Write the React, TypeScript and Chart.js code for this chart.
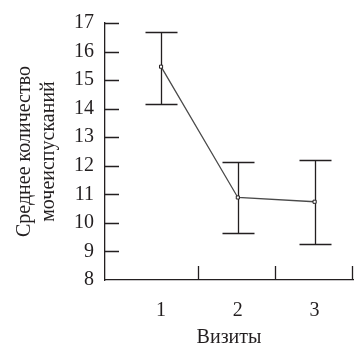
import React, { useEffect, useRef } from "react";
import { Chart, registerables } from "chart.js";

Chart.register(...registerables);

const visits = [1, 2, 3];
const means = [15.47, 10.89, 10.74];
const upper = [16.68, 12.14, 12.2];
const lower = [14.17, 9.65, 9.25];
const yTickValues = [8, 9, 10, 11, 12, 13, 14, 15, 16, 17];
const xTickMarks = [1.5, 2.5, 3.5];
const yTickMarks = [9, 10, 11, 12, 13, 14, 15, 16, 17];
const yTitle = ["Среднее количество", "мочеиспусканий"];
const xTitle = "Визиты";

const FONT = "'Liberation Serif', 'DejaVu Serif', serif";
const INK = "#231f20";

const errorBars = {
  id: "errorBars",
  beforeDatasetsDraw(chart: any) {
    const { ctx, scales } = chart;
    const xs = scales.x;
    const ys = scales.y;
    ctx.save();
    ctx.strokeStyle = INK;
    ctx.lineWidth = 1.3;
    visits.forEach((v, i) => {
      const x = Math.round(xs.getPixelForValue(v)) + 0.5;
      const yh = Math.round(ys.getPixelForValue(upper[i])) + 0.5;
      const yl = Math.round(ys.getPixelForValue(lower[i])) + 0.5;
      ctx.beginPath();
      ctx.moveTo(x, yh);
      ctx.lineTo(x, yl);
      ctx.moveTo(x - 16, yh);
      ctx.lineTo(x + 16, yh);
      ctx.moveTo(x - 16, yl);
      ctx.lineTo(x + 16, yl);
      ctx.stroke();
    });
    ctx.restore();
  },
  afterDraw(chart: any) {
    const { ctx, scales, chartArea } = chart;
    const xs = scales.x;
    const ys = scales.y;
    ctx.save();
    ctx.strokeStyle = INK;
    ctx.lineWidth = 1.3;
    ctx.beginPath();
    xTickMarks.forEach((v) => {
      const x = Math.round(xs.getPixelForValue(v)) - 0.5;
      ctx.moveTo(x, chartArea.bottom);
      ctx.lineTo(x, chartArea.bottom - 14);
    });
    yTickMarks.forEach((v) => {
      const y = Math.round(ys.getPixelForValue(v)) + 0.5;
      ctx.moveTo(chartArea.left, y);
      ctx.lineTo(chartArea.left + 14, y);
    });
    ctx.stroke();
    ctx.restore();
  },
};

export default function App() {
  const ref = useRef<HTMLCanvasElement | null>(null);
  useEffect(() => {
    if (!ref.current) return;
    const chart = new Chart(ref.current, {
      type: "line",
      data: {
        datasets: [
          {
            data: visits.map((v, i) => ({ x: v, y: means[i] })),
            borderColor: "#4a4a4a",
            borderWidth: 1.3,
            pointStyle: "rect",
            pointRadius: 2.2,
            pointBackgroundColor: "#ffffff",
            pointBorderColor: INK,
            pointBorderWidth: 1,
            tension: 0,
          },
        ],
      },
      options: {
        animation: false,
        responsive: false,
        maintainAspectRatio: false,
        layout: { padding: { left: 0, right: 11, top: 19, bottom: 0 } },
        plugins: { legend: { display: false }, tooltip: { enabled: false } },
        scales: {
          x: {
            type: "linear",
            min: 0.27,
            max: 3.5,
            afterBuildTicks: (s: any) => {
              s.ticks = visits.map((v) => ({ value: v }));
            },
            afterFit: (s: any) => {
              s.height = 80;
            },
            grid: { display: false, drawTicks: false },
            border: { display: true, color: INK, width: 1.3 },
            ticks: {
              padding: 19,
              color: INK,
              font: { family: FONT, size: 20 },
              callback: (v: any) => String(v),
            },
            title: {
              display: true,
              text: xTitle,
              color: INK,
              font: { family: FONT, size: 20, lineHeight: 1.2 },
              padding: { top: 0, bottom: 10 },
            },
          },
          y: {
            type: "linear",
            min: 8,
            max: 17,
            afterBuildTicks: (s: any) => {
              s.ticks = yTickValues.map((v) => ({ value: v }));
            },
            afterFit: (s: any) => {
              s.width = 105;
            },
            grid: { display: false, drawTicks: false },
            border: { display: true, color: INK, width: 1.3 },
            ticks: {
              padding: 11,
              color: INK,
              font: { family: FONT, size: 20 },
            },
            title: {
              display: true,
              text: yTitle,
              color: INK,
              font: { family: FONT, size: 20, lineHeight: 1.2 },
              padding: { top: 13, bottom: 0 },
            },
          },
        },
      },
      plugins: [errorBars],
    });
    return () => chart.destroy();
  }, []);
  return (
    <div style={{ position: "absolute", left: 0, top: 0, width: 364, height: 360, background: "#fff" }}>
      <canvas ref={ref} width={364} height={360} style={{ width: 364, height: 360 }} />
    </div>
  );
}
